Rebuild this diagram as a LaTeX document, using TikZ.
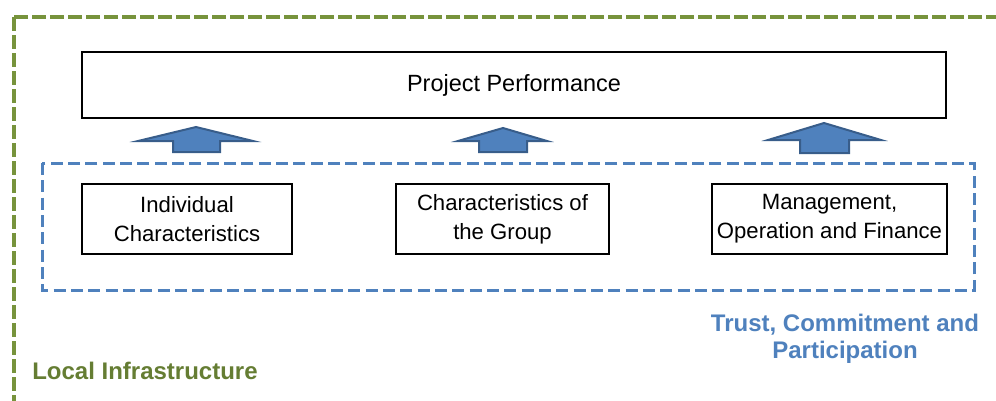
\documentclass[tikz,border=0pt]{standalone}
\usepackage{fontspec}
\setmainfont{Liberation Sans}
\definecolor{localgreen}{HTML}{77933C}
\definecolor{localtext}{HTML}{5F7A2C}
\definecolor{trustblue}{HTML}{4F81BD}
\definecolor{trustedge}{HTML}{385D8A}
\tikzset{
  factor/.style={draw, line width=2.2pt, fill=white, align=center, inner sep=0pt,
    minimum height=52.5pt, font=\fontsize{16.6}{22}\selectfont},
  blockup/.style={fill=trustblue, draw=trustedge, line width=1.5pt, line join=miter},
  layer/.style={font=\bfseries\fontsize{18}{20.25}\selectfont, align=center}
}
\begin{document}
\begin{tikzpicture}[x=0.75pt,y=-0.75pt]
    \useasboundingbox (0,0) rectangle (996,400);
    \clip (0,0) rectangle (996,400);

    % outer layer
    \draw[localgreen, line width=3pt, dash pattern=on 10.5pt off 3pt] (14,17) rectangle (1030,430);
    \node[layer, text=localgreen!85!black] (infra) at (145,371) {Local Infrastructure};

    % top box
    \node[draw, line width=2.2pt, inner sep=0pt, minimum width=648pt, minimum height=49.5pt,
          font=\fontsize{17.6}{21}\selectfont] (perf) at (514,85) {Project Performance};

    % middle layer
    \draw[trustblue, line width=2.25pt, dash pattern=on 9pt off 4pt] (42,163) rectangle (974,290);
    \node[layer, text=trustblue] (trust) at (845,339) {Trust, Commitment and\\Participation};

    \node[factor, minimum width=157.5pt] (indiv) at (187,219) {Individual\\Characteristics};
    \node[factor, minimum width=159.75pt] (group) at (502.5,219) {Characteristics of\\the Group};
    \node[factor, minimum width=176.25pt] (mgmt) at (829.5,219) {Management,\\Operation and Finance};

    % block arrows
    \draw[blockup] (173,152) -- (173,141) -- (138,141) -- (196,127) -- (253,141) -- (220,141) -- (220,152) -- cycle;
    \draw[blockup] (479,152) -- (479,141) -- (458,141) -- (503,128) -- (547,141) -- (527,141) -- (527,152) -- cycle;
    \draw[blockup] (800,153) -- (800,140) -- (768,140) -- (824,123) -- (881,140) -- (849,140) -- (849,153) -- cycle;
\end{tikzpicture}
\end{document}
